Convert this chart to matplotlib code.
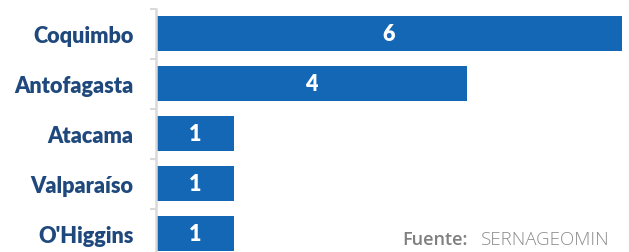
import numpy as np
import matplotlib
matplotlib.use("Agg")
import matplotlib.pyplot as plt
from matplotlib.ticker import FixedLocator

# Datos
regiones = ["Coquimbo", "Antofagasta", "Atacama", "Valparaíso", "O'Higgins"]
valores = [6, 4, 1, 1, 1]

AZUL = "#1467B5"
TEXTO = "#1F497D"
GRIS = "#D9D9D9"

fig = plt.figure(figsize=(6.29, 2.53), dpi=100)
ax = fig.add_axes([156 / 629, 1 - 259.5 / 253, 466 / 629, 250 / 253])

y = np.arange(len(regiones))
bars = ax.barh(y, valores, height=0.7, color=AZUL)

ax.set_xlim(0, 6)
ax.set_ylim(len(regiones) - 0.5, -0.5)

# etiquetas de valores
for b, v in zip(bars, valores):
    ax.text(b.get_width() / 2, b.get_y() + b.get_height() / 2, str(v),
            ha="center", va="center", color="white", fontsize=15.5,
            fontweight="heavy", family="Lato")

# ejes
for s in ["top", "right", "bottom"]:
    ax.spines[s].set_visible(False)
ax.spines["left"].set_color(GRIS)
ax.spines["left"].set_linewidth(1.8)
ax.set_xticks([])
ax.set_yticks(y)
ax.set_yticklabels(regiones, fontsize=15.6, fontweight="heavy", color=TEXTO, family="Lato")
ax.tick_params(axis="y", which="major", length=0, pad=16)
ax.yaxis.set_minor_locator(FixedLocator(np.arange(-0.5, len(regiones), 1)))
ax.tick_params(axis="y", which="minor", length=4.5, width=1.5, color=GRIS)

# fuente
fig.text(402 / 629, 1 - 245 / 253, "Fuente:", fontsize=13, fontweight="semibold",
         color="#7F7F7F", family="Open Sans", ha="left", va="baseline")
fig.text(481 / 629, 1 - 245 / 253, "SERNAGEOMIN", fontsize=13.5, fontweight="light",
         color="#8C8C8C", family="Open Sans", ha="left", va="baseline")

fig.savefig("out.png", dpi=100)
